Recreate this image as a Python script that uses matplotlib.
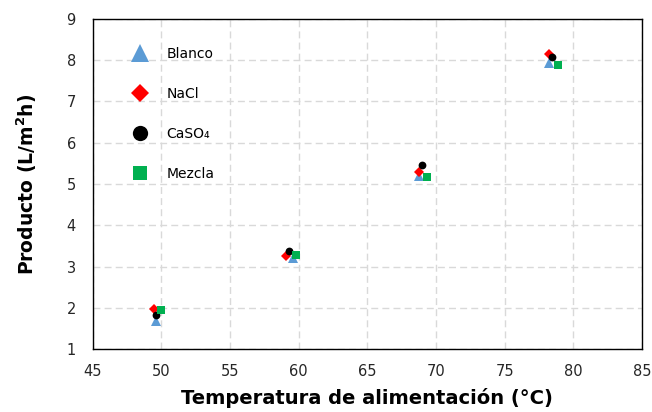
import matplotlib
matplotlib.use("Agg")
import matplotlib.pyplot as plt
from matplotlib.lines import Line2D

# Feed temperature (°C) and product flux (L/m²h) for each feed solution
temp_blanco = [49.62, 59.60, 68.79, 78.23]
prod_blanco = [1.68, 3.20, 5.20, 7.94]

temp_nacl = [49.45, 59.06, 68.79, 78.25]
prod_nacl = [1.96, 3.25, 5.30, 8.15]

temp_caso4 = [49.60, 59.30, 69.00, 78.47]
prod_caso4 = [1.82, 3.38, 5.46, 8.09]

temp_mezcla = [49.97, 59.79, 69.32, 78.86]
prod_mezcla = [1.95, 3.28, 5.16, 7.88]

series_labels = ["Blanco", "NaCl", "CaSO₄", "Mezcla"]
x_ticks = [45, 50, 55, 60, 65, 70, 75, 80, 85]
y_ticks = [1, 2, 3, 4, 5, 6, 7, 8, 9]

blue = "#5B9BD5"
red = "#FF0000"
black = "#000000"
green = "#00B050"

fig = plt.figure(figsize=(6.52, 4.12), dpi=100)
ax = fig.add_axes([0.1419, 0.1529, 0.8428, 0.8010])

styles = [
    (temp_blanco, prod_blanco, "^", blue, 7.5),
    (temp_nacl, prod_nacl, "D", red, 5.2),
    (temp_caso4, prod_caso4, "o", black, 5.6),
    (temp_mezcla, prod_mezcla, "s", green, 5.4),
]
for x, y, m, c, s in styles:
    ax.plot(x, y, linestyle="none", marker=m, color=c, markersize=s,
            markeredgewidth=0, zorder=3)

ax.set_xlim(45, 85)
ax.set_ylim(1, 9)
ax.set_xticks(x_ticks)
ax.set_yticks(y_ticks)
ax.tick_params(axis="x", length=0, labelsize=10.5, pad=11)
ax.tick_params(axis="y", length=0, labelsize=10.5, pad=12)
for lab in ax.get_xticklabels() + ax.get_yticklabels():
    lab.set_color("#262626")

ax.grid(True, color="#D9D9D9", linestyle=(0, (5, 3)), linewidth=1.0)
ax.set_axisbelow(True)
for sp in ax.spines.values():
    sp.set_color("#000000")
    sp.set_linewidth(1.0)

ax.set_xlabel("Temperatura de alimentación (°C)", fontsize=14,
              fontweight="bold", labelpad=6)
ax.set_ylabel("Producto (L/m$^\\mathbf{2}$h)", fontsize=13.5,
              fontweight="bold", labelpad=20)

handles = [
    Line2D([], [], linestyle="none", marker="^", color=blue, markersize=13,
           markeredgewidth=0),
    Line2D([], [], linestyle="none", marker="D", color=red, markersize=9.5,
           markeredgewidth=0),
    Line2D([], [], linestyle="none", marker="o", color=black, markersize=11,
           markeredgewidth=0),
    Line2D([], [], linestyle="none", marker="s", color=green, markersize=10.5,
           markeredgewidth=0),
]
ax.legend(handles, series_labels, loc="upper left",
          bbox_to_anchor=(0.045, 0.953), frameon=False, fontsize=10,
          labelspacing=1.87, handletextpad=1.15, handlelength=1.5)

fig.savefig("out.png", dpi=100)
